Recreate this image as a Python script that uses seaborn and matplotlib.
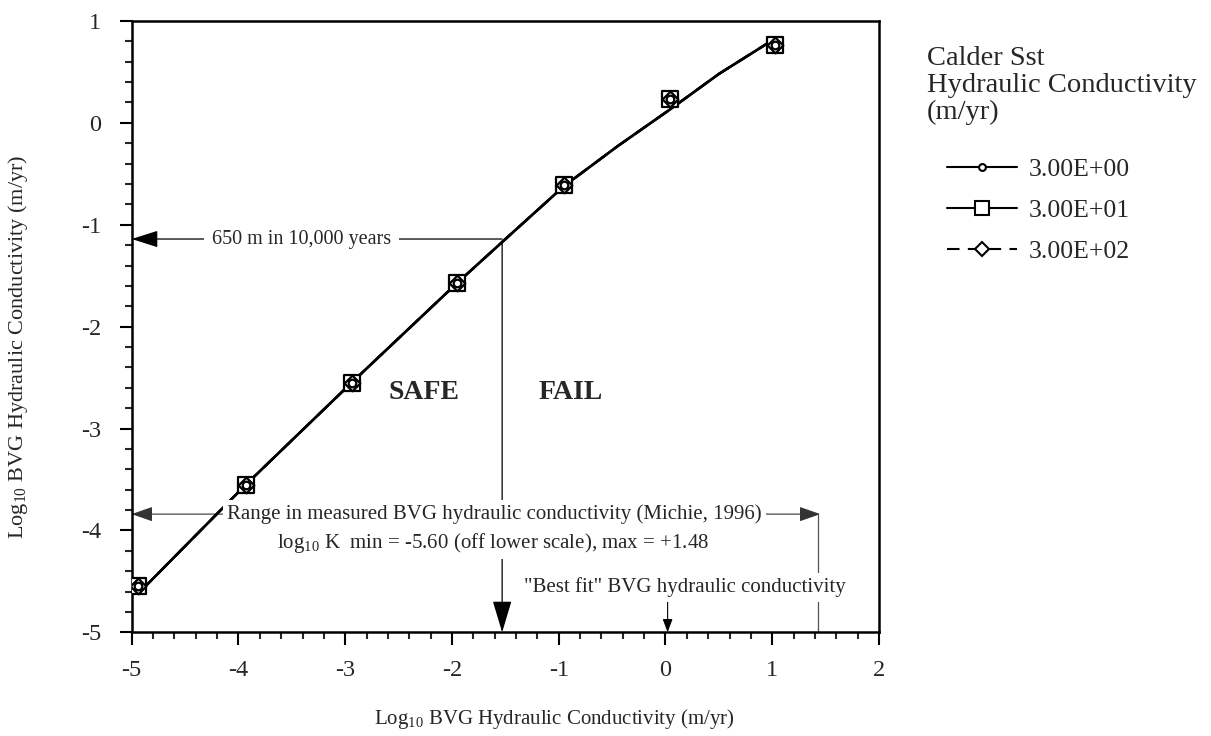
import numpy as np
import pandas as pd
import matplotlib
matplotlib.use("Agg")
import matplotlib.pyplot as plt
import seaborn as sns
from matplotlib.lines import Line2D
from matplotlib.ticker import MultipleLocator

# ---------------- data ----------------
series_labels = ["3.00E+00", "3.00E+01", "3.00E+02"]
# simulated curve (log10 BVG K on x, log10 effective K on y)
curve_x = [-4.92, -3.93, -2.94, -1.95, -1.53, -0.95, -0.45, 0.04, 0.50, 1.00]
curve_y = [-4.60, -3.55, -2.55, -1.57, -1.17, -0.62, -0.23, 0.13, 0.48, 0.81]
# marked model points
point_x = [-4.94, -3.93, -2.94, -1.95, -0.95, 0.04, 1.03]
point_y = [-4.55, -3.55, -2.55, -1.57, -0.61, 0.235, 0.76]

x_ticks = [-5, -4, -3, -2, -1, 0, 1, 2]
y_ticks = [-5, -4, -3, -2, -1, 0, 1]

k_650 = -1.14        # 650 m in 10,000 years level
k_cross = -1.53      # crossing of curve (safe / fail boundary)
range_y = -3.84      # level of measured range annotation
range_max = 1.45     # max measured BVG K (log10)
best_fit = 0.02      # "best fit" BVG K (log10)

markers = {"3.00E+00": "o", "3.00E+01": "s", "3.00E+02": "D"}
msizes = {"3.00E+00": 30, "3.00E+01": 130, "3.00E+02": 64}
lstyles = {"3.00E+00": "-", "3.00E+01": "-", "3.00E+02": (0, (6, 4))}
zord = {"3.00E+00": 6, "3.00E+01": 4, "3.00E+02": 5}

# ---------------- style ----------------
sns.set_style("ticks")
plt.rcParams["font.family"] = ["Liberation Serif", "DejaVu Serif"]
plt.rcParams["mathtext.fontset"] = "custom"
plt.rcParams["mathtext.rm"] = "Liberation Serif"
plt.rcParams["mathtext.it"] = "Liberation Serif:italic"
plt.rcParams["mathtext.bf"] = "Liberation Serif:bold"
plt.rcParams["axes.unicode_minus"] = False

fig = plt.figure(figsize=(12.11, 7.36), dpi=100)
ax = fig.add_axes([0.10875, 0.1409, 0.6171, 0.8306])

df_curve = pd.concat(
    [pd.DataFrame({"x": curve_x, "y": curve_y, "series": s}) for s in series_labels],
    ignore_index=True)
df_pts = pd.concat(
    [pd.DataFrame({"x": point_x, "y": point_y, "series": s}) for s in series_labels],
    ignore_index=True)

for s in series_labels:
    sub = df_curve[df_curve.series == s]
    sns.lineplot(data=sub, x="x", y="y", ax=ax, color="black", lw=1.8,
                 linestyle=lstyles[s], sort=False, estimator=None, legend=False,
                 zorder=3)
for s in ["3.00E+01", "3.00E+02", "3.00E+00"]:
    sub = df_pts[df_pts.series == s]
    sns.scatterplot(data=sub, x="x", y="y", ax=ax, marker=markers[s],
                    s=msizes[s], color="white", edgecolor="black",
                    linewidth=1.6, zorder=zord[s], legend=False)

ax.set_xlim(-5, 2)
ax.set_ylim(-5, 1)
ax.set_xticks(x_ticks)
ax.set_yticks(y_ticks)
ax.xaxis.set_minor_locator(MultipleLocator(0.2))
ax.yaxis.set_minor_locator(MultipleLocator(0.2))
ax.tick_params(which="major", direction="out", length=9, width=1.5,
               labelsize=17.5, color="black")
ax.tick_params(axis="x", which="major", pad=11)
ax.tick_params(axis="y", which="major", pad=13)
ax.tick_params(which="minor", direction="out", length=5, width=1.5)
for sp in ax.spines.values():
    sp.set_visible(True)
    sp.set_linewidth(1.8)
    sp.set_color("black")

ax.set_xlabel("Log$_{10}$ BVG Hydraulic Conductivity (m/yr)", fontsize=15)
ax.set_ylabel("Log$_{10}$ BVG Hydraulic Conductivity (m/yr)", fontsize=16)
ax.xaxis.set_label_coords(0.566, -0.122)
ax.yaxis.set_label_coords(-0.136, 0.467)

# ---------------- annotations ----------------
# 650 m in 10,000 years arrow
ax.annotate("", xy=(-5, k_650), xytext=(k_cross, k_650),
            arrowprops=dict(arrowstyle="-|>,head_length=1.1,head_width=0.35",
                            color="black", lw=0.9, shrinkA=0, shrinkB=0,
                            mutation_scale=15), zorder=2)
ax.text(-3.41, k_650, "650 m in 10,000 years", fontsize=14.5, ha="center",
        va="center", bbox=dict(facecolor="white", edgecolor="none", pad=6),
        zorder=7)

# vertical safe/fail arrow
ax.annotate("", xy=(k_cross, -5), xytext=(k_cross, k_650 - 0.02),
            arrowprops=dict(arrowstyle="-|>,head_length=1.0,head_width=0.3",
                            color="black", lw=0.9, shrinkA=0, shrinkB=0,
                            mutation_scale=20), zorder=2)

# measured range arrow
ax.annotate("", xy=(-5, range_y), xytext=(range_max, range_y),
            arrowprops=dict(arrowstyle="<|-|>,head_length=1.0,head_width=0.35",
                            color="#333333", lw=0.8, shrinkA=0, shrinkB=0,
                            mutation_scale=13), zorder=2)
ax.plot([range_max - 0.025, range_max - 0.025], [range_y, -5], color="#555555",
        lw=0.9, zorder=2)
ax.text(-1.60, range_y, "Range in measured BVG hydraulic conductivity (Michie, 1996)",
        fontsize=15, ha="center", va="center", bbox=dict(facecolor="white",
        edgecolor="none", pad=3), zorder=7)
ax.text(-1.62, range_y - 0.28,
        "log$_{10}$ K  min = -5.60 (off lower scale), max = +1.48",
        fontsize=15, ha="center", va="center",
        bbox=dict(facecolor="white", edgecolor="none", pad=3), zorder=7)

# best fit arrow
ax.annotate("", xy=(best_fit, -5), xytext=(best_fit, -4.69),
            arrowprops=dict(arrowstyle="-|>,head_length=0.8,head_width=0.3",
                            color="black", lw=0.8, shrinkA=0, shrinkB=0,
                            mutation_scale=10), zorder=2)
ax.text(0.186, -4.56, "\"Best fit\" BVG hydraulic conductivity", fontsize=15,
        ha="center", va="center", bbox=dict(facecolor="white", edgecolor="none",
        pad=3), zorder=7)

ax.text(-2.26, -2.65, "SAFE", fontsize=20, fontweight="bold", ha="center",
        va="center", zorder=7)
ax.text(-0.892, -2.65, "FAIL", fontsize=20, fontweight="bold", ha="center",
        va="center", zorder=7)

# ---------------- legend ----------------
handles = [Line2D([0], [0], color="black", lw=1.5, linestyle=lstyles[s],
                  marker=markers[s], markersize=np.sqrt(msizes[s]) * 0.9,
                  markerfacecolor="white", markeredgecolor="black",
                  markeredgewidth=1.5) for s in series_labels]
fig.text(926.7 / 1211, 1 - 46 / 736,
         "Calder Sst\nHydraulic Conductivity\n(m/yr)", fontsize=20.5,
         ha="left", va="top", linespacing=1.1)
fig.legend(handles, series_labels, loc="upper left",
           bbox_to_anchor=(946.7 / 1211, 1 - 158 / 736), frameon=False,
           fontsize=18.5, handlelength=2.75, handletextpad=0.45,
           labelspacing=0.7, borderpad=0, borderaxespad=0)

fig.savefig("out.png", dpi=100)
